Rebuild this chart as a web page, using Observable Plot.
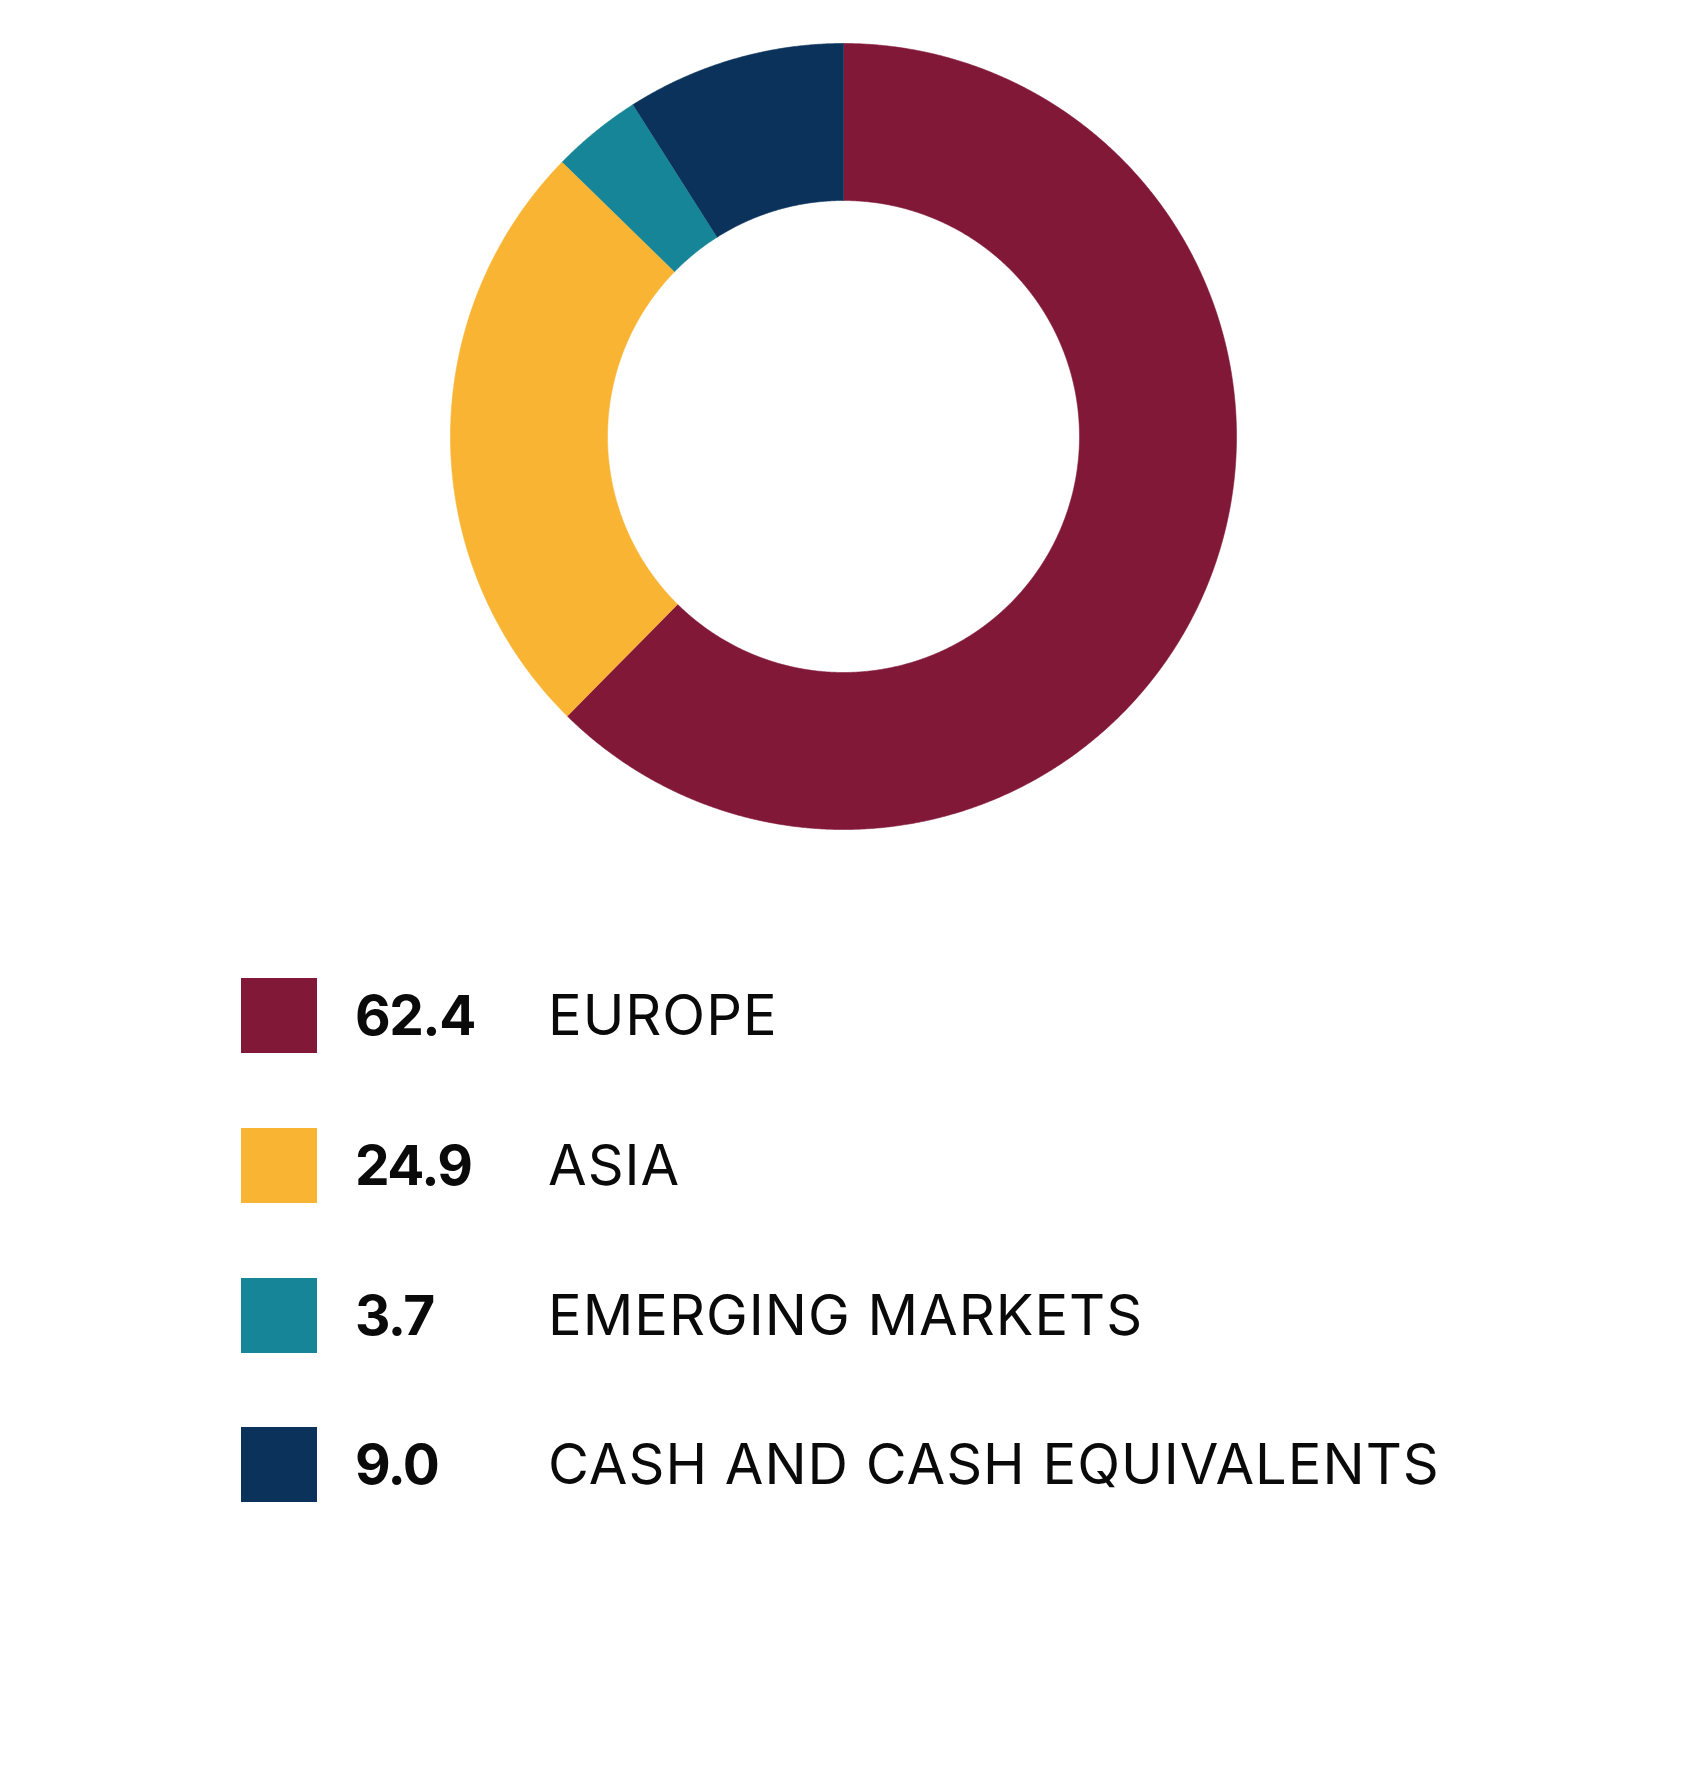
<!DOCTYPE html>
<html><head><meta charset="utf-8">
<script src="https://cdn.jsdelivr.net/npm/d3@7"></script>
<script src="https://cdn.jsdelivr.net/npm/@observablehq/plot@0.6"></script>
<style>
body{margin:0;background:#fff;font-family:Inter,"Noto Sans",sans-serif;color:#0a0a0a;}
#chart svg{display:block}
.legend{position:relative;height:893px;width:1687px}
.row{position:absolute;left:241px;height:75px;width:1400px}
.sw{position:absolute;left:0;top:0;width:76px;height:75px}
.num{position:absolute;left:114px;top:0;line-height:75px;font-weight:700;font-size:55px;white-space:nowrap;letter-spacing:-1.5px}
.lab{position:absolute;left:307px;top:0;line-height:75px;font-weight:400;font-size:56px;white-space:nowrap;letter-spacing:1px}
</style>
</head><body>
<div id="chart"></div>
<div class="legend" id="legend"></div>
<script>
const categories = ["EUROPE", "ASIA", "EMERGING MARKETS", "CASH AND CASH EQUIVALENTS"];
const values = [62.4, 24.9, 3.7, 9.0];
const valueLabels = ["62.4", "24.9", "3.7", "9.0"];
const colors = ["#811838", "#F9B433", "#158597", "#0A325A"];

const table = categories.map((c, i) => ({category: c, value: values[i]}));
const innerRatio = 236 / 393;
const arcs = d3.pie().sort(null).value(d => d.value)(table);
const points = [];
for (const a of arcs) {
  const n = Math.max(2, Math.ceil((a.endAngle - a.startAngle) / (Math.PI / 720)) + 1);
  for (let k = 0; k < n; k++) {
    const t = a.startAngle + (a.endAngle - a.startAngle) * k / (n - 1);
    points.push({category: a.data.category, x: Math.sin(t), y: Math.cos(t)});
  }
  for (let k = n - 1; k >= 0; k--) {
    const t = a.startAngle + (a.endAngle - a.startAngle) * k / (n - 1);
    points.push({category: a.data.category, x: innerRatio * Math.sin(t), y: innerRatio * Math.cos(t)});
  }
}

const W = 1687, H = 880, R = 393, cx = 843, cy = 436;
const plot = Plot.plot({
  width: W, height: H,
  margin: 0,
  x: {domain: [-cx / R, (W - cx) / R], axis: null},
  y: {domain: [-(H - cy) / R, cy / R], axis: null},
  color: {domain: categories, range: colors},
  marks: [
    Plot.line(points, {x: "x", y: "y", z: "category", fill: "category", stroke: "category", strokeWidth: 0.6})
  ]
});
document.getElementById("chart").appendChild(plot);

const legend = document.getElementById("legend");
const tops = [98, 248, 398, 547];
categories.forEach((c, i) => {
  const row = document.createElement("div");
  row.className = "row";
  row.style.top = tops[i] + "px";
  row.innerHTML = `<div class="sw" style="background:${colors[i]}"></div><div class="num">${valueLabels[i]}</div><div class="lab">${c}</div>`;
  legend.appendChild(row);
});
</script>
</body></html>
